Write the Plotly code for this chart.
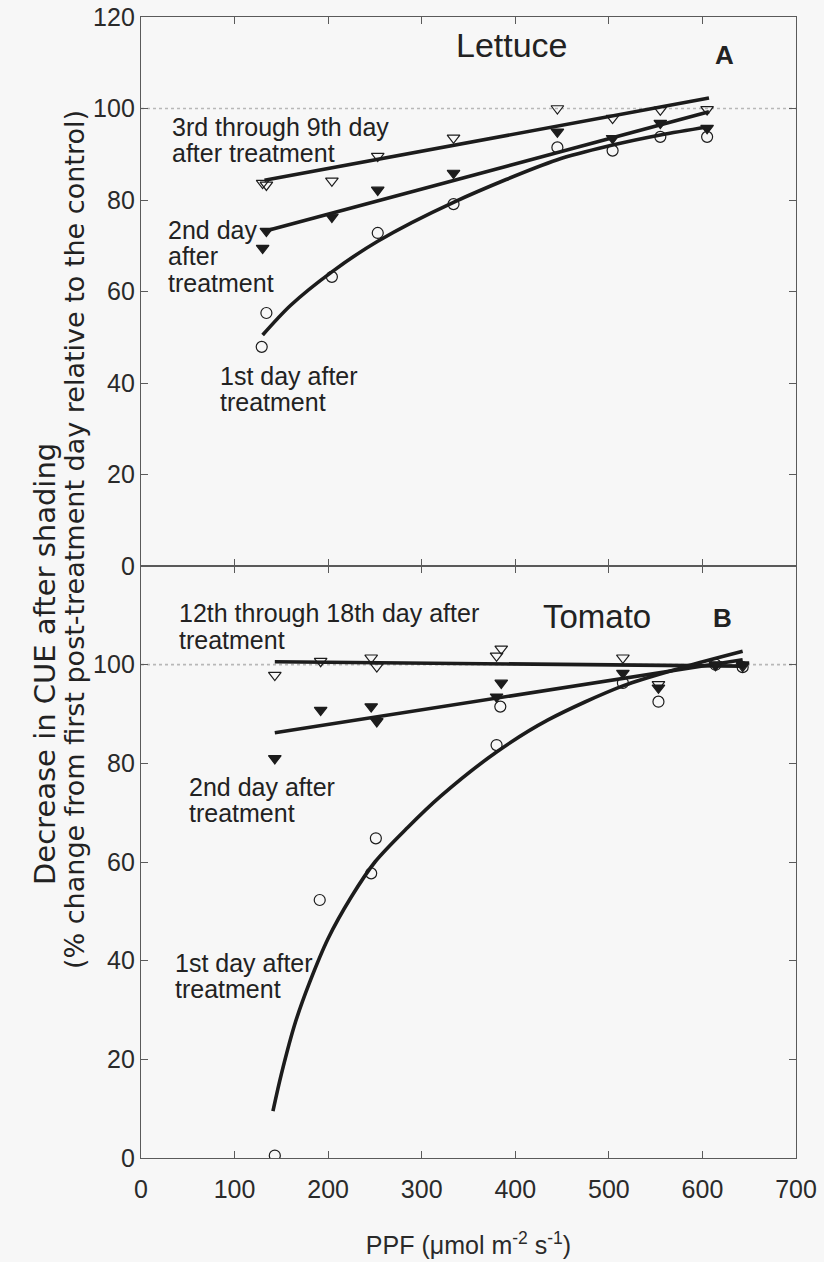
import plotly.graph_objects as go

# ---------------- data ----------------
# Panel A : Lettuce
let_ppf = [130, 134, 204, 253, 334, 445, 504, 555, 605]
let_late = [83.7, 83.3, 84.2, 89.6, 93.6, 100.0, 97.9, 99.7, 99.8]      # 3rd-9th day (open tri)
let_ppf2 = [134, 130, 204, 253, 334, 445, 504, 555, 605]
let_day2 = [73.2, 69.5, 76.3, 82.2, 85.9, 94.9, 93.5, 96.8, 95.7]       # 2nd day (filled tri)
let_ppf1 = [134, 129, 204, 253, 334, 445, 504, 555, 605]
let_day1 = [55.3, 47.9, 63.2, 72.8, 79.1, 91.5, 90.8, 93.8, 93.8]       # 1st day (open circle)

# fitted curves, panel A
let_fit_late_x = [132, 607]
let_fit_late_y = [84.3, 102.3]
let_fit_day2_x = [133, 607]
let_fit_day2_y = [73.2, 99.3]
let_fit_day1_x = [130, 160, 204, 253, 334, 445, 504, 555, 607]
let_fit_day1_y = [50.5, 57.0, 64.3, 71.0, 79.5, 88.8, 92.0, 94.2, 96.0]

# Panel B : Tomato
tom_ppf = [143, 192, 246, 252, 380, 385, 515, 553, 614, 643]
tom_late = [97.9, 100.7, 101.4, 99.6, 101.8, 103.2, 101.4, 96.0, 99.9, 99.7]   # 12th-18th day
tom_day2 = [81.0, 90.8, 91.5, 88.5, 93.5, 96.3, 98.3, 95.3, 100.0, 100.0]     # 2nd day
tom_ppf1 = [143, 191, 246, 251, 380, 384, 515, 553, 614, 643]
tom_day1 = [0.5, 52.3, 57.7, 64.8, 83.7, 91.5, 96.3, 92.5, 100.0, 99.5]       # 1st day

tom_fit_late_x = [143, 643]
tom_fit_late_y = [100.6, 99.7]
tom_fit_day2_x = [143, 643]
tom_fit_day2_y = [86.2, 101.0]
tom_fit_day1_x = [141, 150, 165, 180, 200, 225, 250, 285, 320, 380, 435, 515, 580, 643]
tom_fit_day1_y = [9.5, 17.0, 27.5, 35.5, 44.5, 53.0, 60.0, 67.0, 73.3, 82.3, 88.8, 95.7, 99.5, 102.7]

x_ticks = [0, 100, 200, 300, 400, 500, 600, 700]
yA_ticks = [0, 20, 40, 60, 80, 100, 120]
yB_ticks = [0, 20, 40, 60, 80, 100]

# ---------------- style ----------------
FONT = "Liberation Sans, Arial, sans-serif"
TFONT = "DejaVu Sans, Liberation Sans, sans-serif"
INK = "#1c1c1c"
AXC = "#5a5a5a"
BG = "#f7f7f7"
W, H = 824, 1262
# plot box edges in page pixels
L, R, T, B, MID = 141, 796, 17, 1158, 566

def px(x):
    return (x - L) / (R - L)

def py(y):
    return (B - y) / (B - T)

fig = go.Figure()

def add_panel(xa, ya, fits, pts):
    for fx, fy, shape in fits:
        fig.add_trace(go.Scatter(x=fx, y=fy, mode="lines", xaxis=xa, yaxis=ya,
                                 line=dict(color=INK, width=3.6, shape=shape, smoothing=0.85),
                                 showlegend=False, hoverinfo="skip"))
    for xs, ys, sym in pts:
        fig.add_trace(go.Scatter(x=xs, y=ys, mode="markers", xaxis=xa, yaxis=ya,
                                 marker=dict(symbol=sym, size=11, color=INK,
                                             line=dict(color=INK, width=1.2)),
                                 showlegend=False))

add_panel("x", "y",
          [(let_fit_late_x, let_fit_late_y, "linear"),
           (let_fit_day2_x, let_fit_day2_y, "linear"),
           (let_fit_day1_x, let_fit_day1_y, "spline")],
          [(let_ppf1, let_day1, "circle-open"),
           (let_ppf, let_late, "triangle-down-open"),
           (let_ppf2, let_day2, "triangle-down")])

add_panel("x2", "y2",
          [(tom_fit_late_x, tom_fit_late_y, "linear"),
           (tom_fit_day2_x, tom_fit_day2_y, "linear"),
           (tom_fit_day1_x, tom_fit_day1_y, "spline")],
          [(tom_ppf1, tom_day1, "circle-open"),
           (tom_ppf, tom_late, "triangle-down-open"),
           (tom_ppf, tom_day2, "triangle-down")])

split = py(MID)
axis_common = dict(showline=True, linecolor=AXC, linewidth=1.4, mirror="ticks",
                   ticks="inside", ticklen=7, tickwidth=1.3, tickcolor=AXC,
                   showgrid=False, zeroline=False, automargin=False,
                   ticklabeloverflow="allow",
                   tickfont=dict(family=FONT, size=25, color="#2a2a2a"))

fig.update_layout(
    width=W, height=H,
    margin=dict(l=L, r=W - R, t=T, b=H - B, autoexpand=False),
    paper_bgcolor=BG, plot_bgcolor=BG,
    xaxis=dict(domain=[0, 1], range=[0, 700], anchor="y", tickvals=x_ticks,
               showticklabels=False, **axis_common),
    yaxis=dict(domain=[split, 1], range=[0, 120], anchor="x", tickvals=yA_ticks, **axis_common),
    xaxis2=dict(domain=[0, 1], range=[0, 700], anchor="y2", tickvals=x_ticks,
                ticklabelstandoff=9,
                title=dict(text="PPF (\u03bcmol m<sup>-2</sup> s<sup>-1</sup>)",
                           font=dict(family=FONT, size=25, color="#2a2a2a"), standoff=34),
                **axis_common),
    yaxis2=dict(domain=[0, split], range=[0, 120], anchor="x2", tickvals=yB_ticks, **axis_common),
)

# dotted reference line at 100 % in both panels
for ya, xd in [("y", "x domain"), ("y2", "x2 domain")]:
    fig.add_shape(type="line", xref=xd, x0=0, x1=1,
                  yref=ya, y0=100, y1=100, line=dict(color="#b8b8b8", width=1.6, dash="dot"),
                  layer="below")

def label(text, x, y, size=25, anchor="left", bold=False, angle=0, family=FONT):
    fig.add_annotation(text=("<b>%s</b>" % text) if bold else text,
                       xref="paper", yref="paper", x=px(x), y=py(y),
                       xanchor=anchor, yanchor="middle", showarrow=False, textangle=angle,
                       font=dict(family=family, size=size, color="#222"))

# panel A labels
label("Lettuce", 512, 45, size=34, anchor="center")
label("A", 724, 55, size=26, anchor="center", bold=True)
label("3rd through 9th day", 170, 127)
label("after treatment", 170, 153)
label("2nd day", 166, 230)
label("after", 166, 256)
label("treatment", 166, 283)
label("1st day after", 218, 376)
label("treatment", 218, 402)

# panel B labels
label("Tomato", 597, 616, size=33, anchor="center")
label("B", 722, 618, size=26, anchor="center", bold=True)
label("12th through 18th day after", 177, 613)
label("treatment", 177, 640)
label("2nd day after", 187, 787)
label("treatment", 187, 813)
label("1st day after", 173, 963)
label("treatment", 173, 989)

# y-axis title (two rotated lines)
label("Decrease in CUE after shading", 45, 664, size=29, anchor="center", angle=-90, family=TFONT)
label("(% change from first post-treatment day relative to the control)", 74, 540, size=27,
      anchor="center", angle=-90, family=TFONT)

fig.write_html("out.html",
               config={"displayModeBar": False},
               post_script="document.body.style.margin='0px';"
                           "document.body.style.background='%s';" % BG)
